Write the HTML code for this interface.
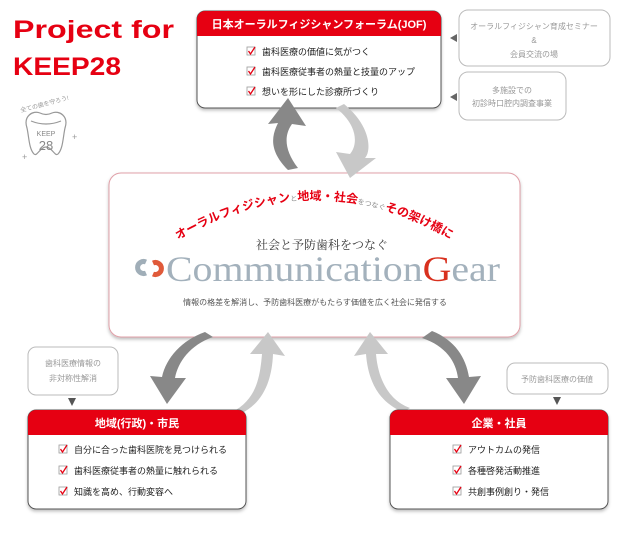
<!DOCTYPE html>
<html><head><meta charset="utf-8"><style>
body{margin:0;width:635px;height:530px;background:#fff;overflow:hidden;font-family:"Liberation Sans","Noto Sans CJK JP",sans-serif}
</style></head><body>
<svg width="635" height="530" viewBox="0 0 635 530" xmlns="http://www.w3.org/2000/svg" font-family="Liberation Sans, Noto Sans CJK JP, sans-serif">
<defs>
<filter id="sh" x="-5%" y="-5%" width="110%" height="115%"><feDropShadow dx="0" dy="2" stdDeviation="1.5" flood-color="#000" flood-opacity="0.25"/></filter>
<g id="chk"><rect x="0" y="0" width="8" height="8" fill="#fff" stroke="#999" stroke-width="0.8"/><path d="M1.5 4 L3.5 7 L8 0" fill="none" stroke="#e60012" stroke-width="1.3"/></g>
</defs>

<!-- Title -->
<text x="13" y="38" font-size="25" font-weight="bold" fill="#e60012" textLength="161" lengthAdjust="spacingAndGlyphs">Project for</text>
<text x="13" y="75" font-size="25" font-weight="bold" fill="#e60012" textLength="108" lengthAdjust="spacingAndGlyphs">KEEP28</text>
<!-- tooth logo -->
<g stroke="#999" fill="none" stroke-width="1.2">
<path d="M27 128 C23 116 33 110 40 113 C44 115 48 115 52 113 C59 110 69 116 65 128 C63 137 63 149 58 154 C55 157 52 147 46 147 C40 147 37 157 34 154 C29 149 29 137 27 128Z"/>
<path d="M31 121 Q46 127 61 121"/>
</g>
<text x="46" y="136" font-size="7" fill="#888" text-anchor="middle">KEEP</text>
<text x="46" y="150" font-size="13" fill="#888" text-anchor="middle">28</text>
<text x="45" y="106" font-size="6" fill="#999" text-anchor="middle" transform="rotate(-15 45 106)">全ての歯を守ろう!</text>
<text x="72" y="140" font-size="9" fill="#999">+</text>
<text x="22" y="160" font-size="9" fill="#999">+</text>

<!-- Top box -->
<g filter="url(#sh)">
<rect x="197" y="11" width="244" height="97" rx="8" fill="#fff" stroke="#555" stroke-width="1"/>
</g>
<path d="M197 36 V19 a8 8 0 0 1 8 -8 H433 a8 8 0 0 1 8 8 V36Z" fill="#e60012"/>
<text x="319" y="28" font-size="11" font-weight="bold" fill="#fff" text-anchor="middle">日本オーラルフィジシャンフォーラム(JOF)</text>
<use href="#chk" x="247" y="47"/><text x="262" y="55" font-size="9" fill="#222">歯科医療の価値に気がつく</text>
<use href="#chk" x="247" y="67"/><text x="262" y="75" font-size="9" fill="#222">歯科医療従事者の熱量と技量のアップ</text>
<use href="#chk" x="247" y="87"/><text x="262" y="95" font-size="9" fill="#222">想いを形にした診療所づくり</text>

<!-- side callouts -->
<rect x="459" y="10" width="151" height="56" rx="9" fill="#fff" stroke="#bbb"/>
<text x="534" y="29" font-size="8" fill="#999" text-anchor="middle">オーラルフィジシャン育成セミナー</text>
<text x="534" y="43" font-size="8" fill="#999" text-anchor="middle">&amp;</text>
<text x="534" y="57" font-size="8" fill="#999" text-anchor="middle">会員交流の場</text>
<path d="M450 38 L457 34 L457 42Z" fill="#666"/>
<rect x="459" y="72" width="107" height="48" rx="9" fill="#fff" stroke="#bbb"/>
<text x="512" y="93" font-size="8" fill="#999" text-anchor="middle">多施設での</text>
<text x="512" y="106" font-size="8" fill="#999" text-anchor="middle">初診時口腔内調査事業</text>
<path d="M450 97 L457 93 L457 101Z" fill="#666"/>

<!-- Center box -->
<g filter="url(#sh)">
<rect x="109" y="173" width="411" height="164" rx="12" fill="#fff" stroke="#e0a0a8" stroke-width="1"/>
</g>
<path id="arc" d="M178 240 Q315 160 452 240" fill="none"/>
<text font-size="12" font-weight="bold" fill="#e60012"><textPath href="#arc" startOffset="0">オーラルフィジシャン<tspan font-size="7" fill="#888" font-weight="normal">と</tspan>地域・社会<tspan font-size="7" fill="#888" font-weight="normal">をつなぐ</tspan>その架け橋に</textPath></text>
<text x="256" y="249" font-size="12" fill="#333" font-family="Liberation Serif, Noto Serif CJK SC, serif">社会と予防歯科をつなぐ</text>
<g fill="none" stroke-width="5">
<path d="M146 262 A6 6 0 1 0 146 273" stroke="#a0aeb8"/>
<path d="M153 263 A6 6 0 1 1 153 274" stroke="#e05a3a"/>
</g>
<text x="166" y="281" font-size="36" fill="#a3b1bc" font-family="Liberation Serif, serif" textLength="334" lengthAdjust="spacingAndGlyphs">Communication<tspan fill="#d8301e">G</tspan>ear</text>
<text x="315" y="305" font-size="8" fill="#555" text-anchor="middle">情報の格差を解消し、予防歯科医療がもたらす価値を広く社会に発信する</text>

<!-- Arrows top -->
<path d="M288 170 C268 150 272 135 278 123 L268 124 L288 98 L306 126 L292 124 C284 135 284 150 298 168Z" fill="#888"/>
<path d="M344 104 C370 125 372 150 365 158 L376 158 L350 178 L336 152 L350 154 C358 145 358 125 336 108Z" fill="#c8c8c8"/>
<!-- bottom left -->
<path d="M213 337 C190 345 178 362 175 378 L186 378 L167 404 L150 376 L162 377 C166 358 182 340 205 332Z" fill="#888"/>
<path d="M232 412 C256 400 260 378 262 354 L250 354 L268 332 L285 356 L273 354 C272 382 262 404 240 414Z" fill="#c8c8c8"/>
<!-- bottom right -->
<path d="M403 412 C378 402 368 380 366 354 L354 356 L370 332 L388 354 L376 354 C378 378 388 400 410 408Z" fill="#c8c8c8"/>
<path d="M432 331 C455 340 466 358 469 377 L481 376 L464 404 L446 378 L458 378 C456 362 446 346 422 338Z" fill="#888"/>

<!-- left callout -->
<rect x="28" y="347" width="90" height="48" rx="8" fill="#fff" stroke="#bbb"/>
<text x="73" y="366" font-size="8" fill="#999" text-anchor="middle">歯科医療情報の</text>
<text x="73" y="381" font-size="8" fill="#999" text-anchor="middle">非対称性解消</text>
<path d="M68 398 L76 398 L72 406Z" fill="#555"/>
<!-- right callout -->
<rect x="507" y="363" width="101" height="31" rx="8" fill="#fff" stroke="#bbb"/>
<text x="557" y="382" font-size="8" fill="#999" text-anchor="middle">予防歯科医療の価値</text>
<path d="M553 397 L561 397 L557 405Z" fill="#555"/>

<!-- bottom left box -->
<g filter="url(#sh)"><rect x="28" y="410" width="218" height="99" rx="8" fill="#fff" stroke="#555"/></g>
<path d="M28 435 V418 a8 8 0 0 1 8 -8 H238 a8 8 0 0 1 8 8 V435Z" fill="#e60012"/>
<text x="137" y="427" font-size="11" font-weight="bold" fill="#fff" text-anchor="middle">地域(行政)・市民</text>
<use href="#chk" x="59" y="445"/><text x="74" y="453" font-size="9" fill="#222">自分に合った歯科医院を見つけられる</text>
<use href="#chk" x="59" y="466"/><text x="74" y="474" font-size="9" fill="#222">歯科医療従事者の熱量に触れられる</text>
<use href="#chk" x="59" y="487"/><text x="74" y="495" font-size="9" fill="#222">知識を高め、行動変容へ</text>

<!-- bottom right box -->
<g filter="url(#sh)"><rect x="390" y="410" width="218" height="99" rx="8" fill="#fff" stroke="#555"/></g>
<path d="M390 435 V418 a8 8 0 0 1 8 -8 H600 a8 8 0 0 1 8 8 V435Z" fill="#e60012"/>
<text x="499" y="427" font-size="11" font-weight="bold" fill="#fff" text-anchor="middle">企業・社員</text>
<use href="#chk" x="453" y="445"/><text x="468" y="453" font-size="9" fill="#222">アウトカムの発信</text>
<use href="#chk" x="453" y="466"/><text x="468" y="474" font-size="9" fill="#222">各種啓発活動推進</text>
<use href="#chk" x="453" y="487"/><text x="468" y="495" font-size="9" fill="#222">共創事例創り・発信</text>
</svg>
</body></html>
